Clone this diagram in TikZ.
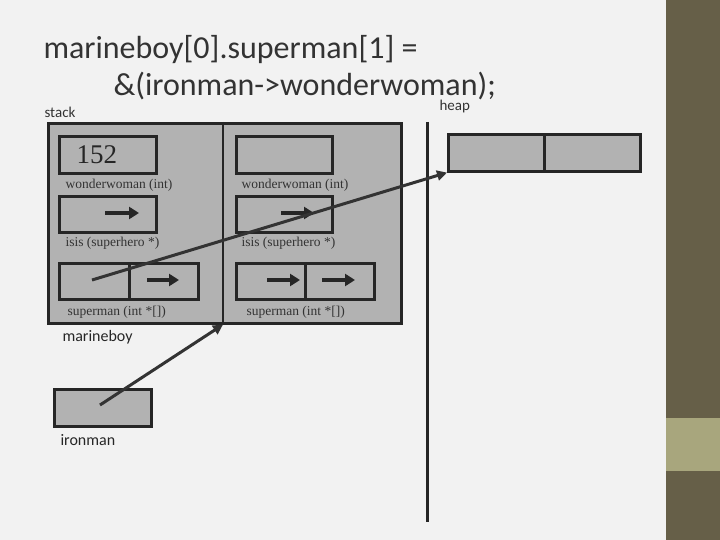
\documentclass[tikz,border=0pt]{standalone}
\usepackage{fontspec}
\setmainfont{Carlito}
\newfontfamily\ser{Liberation Serif}
\usetikzlibrary{arrows.meta}
\begin{document}
\begin{tikzpicture}[x=1pt,y=-1pt,
  cell/.style={draw=black!85,line width=2.6pt},
  lab/.style={font=\ser\fontsize{13.5}{13.5}\selectfont,anchor=west,text=black!80},
  sarr/.style={line width=3.5pt,-{Triangle[length=10pt,width=12pt]},draw=black!85},
  larr/.style={line width=3pt,-{Triangle[length=10pt,width=10pt]},draw=black!80}]
\useasboundingbox (0,0) rectangle (720,540);
\fill[fill=black!5] (0,0) rectangle (666,540);
\fill[fill={rgb,255:red,102;green,95;blue,72}] (666,0) rectangle (720,540);
\fill[fill={rgb,255:red,168;green,166;blue,125}] (666,418) rectangle (720,471);
% title
\node[anchor=west,font=\fontsize{32}{32}\selectfont,text=black!80] (t1) at (40,50) {marineboy[0].superman[1] =};
\node[anchor=west,font=\fontsize{32}{32}\selectfont,text=black!80] (t2) at (110,86) {\&(ironman->wonderwoman);};
\node[anchor=west,font=\fontsize{15}{15}\selectfont,text=black!80] (st) at (41,112) {stack};
\node[anchor=west,font=\fontsize{15}{15}\selectfont,text=black!80] (hp) at (436,107) {heap};
% stack frame
\node[cell,fill=black!30,minimum width=353,minimum height=200,inner sep=0,anchor=north west] (frame) at (47,122) {};
\draw[line width=2.6pt,black!85] (223,122) -- (223,322);
% left struct
\node[cell,minimum width=97,minimum height=37,inner sep=0,anchor=north west,font=\ser\fontsize{27}{27}\selectfont,text=black!85] (lw) at (58,135) {\hspace*{-22pt}152};
\node[lab] at (62,185) {wonderwoman (int)};
\node[cell,minimum width=97,minimum height=36,inner sep=0,anchor=north west] (li) at (58,195) {};
\node[lab] at (62,243) {isis (superhero *)};
\node[cell,minimum width=70,minimum height=36,inner sep=0,anchor=north west] (ls0) at (58,262) {};
\node[cell,minimum width=69,minimum height=36,inner sep=0,anchor=north west] (ls1) at (128,262) {};
\node[lab] at (64,312) {superman (int *[])};
% right struct
\node[cell,minimum width=96,minimum height=37,inner sep=0,anchor=north west] (rw) at (235,135) {};
\node[lab] at (238,185) {wonderwoman (int)};
\node[cell,minimum width=96,minimum height=36,inner sep=0,anchor=north west] (ri) at (235,195) {};
\node[lab] at (238,243) {isis (superhero *)};
\node[cell,minimum width=69,minimum height=36,inner sep=0,anchor=north west] (rs0) at (235,262) {};
\node[cell,minimum width=69,minimum height=36,inner sep=0,anchor=north west] (rs1) at (304,262) {};
\node[lab] at (243,312) {superman (int *[])};
% small arrows
\coordinate (a1) at (105,213); \coordinate (b1) at (139,213);
\coordinate (a2) at (147,280); \coordinate (b2) at (179,280);
\coordinate (a3) at (281,213); \coordinate (b3) at (314,213);
\coordinate (a4) at (267,280); \coordinate (b4) at (300,280);
\coordinate (a5) at (322,280); \coordinate (b5) at (355,280);
\foreach \i in {1,...,5} \draw[sarr] (a\i) -- (b\i);
% heap divider
\draw[line width=3pt,black!85] (427,122) -- (427,522);
% heap cells
\node[cell,fill=black!30,minimum width=96,minimum height=37,inner sep=0,anchor=north west] (h0) at (447,133) {};
\node[cell,fill=black!30,minimum width=96,minimum height=37,inner sep=0,anchor=north west] (h1) at (543,133) {};
% ironman
\node[anchor=west,font=\fontsize{16}{16}\selectfont,text=black!85] (mb) at (59,337) {marineboy};
\node[cell,fill=black!30,minimum width=97,minimum height=37,inner sep=0,anchor=north west] (im) at (53,388) {};
\node[anchor=west,font=\fontsize{16}{16}\selectfont,text=black!85] (iml) at (57,440) {ironman};
% long arrows
\coordinate (s1) at (92,280);
\coordinate (s2) at (100,405);
\draw[larr] (s1) -- (h0.south west);
\draw[larr] (s2) -- (frame.south -| 223,0);
\end{tikzpicture}
\end{document}
